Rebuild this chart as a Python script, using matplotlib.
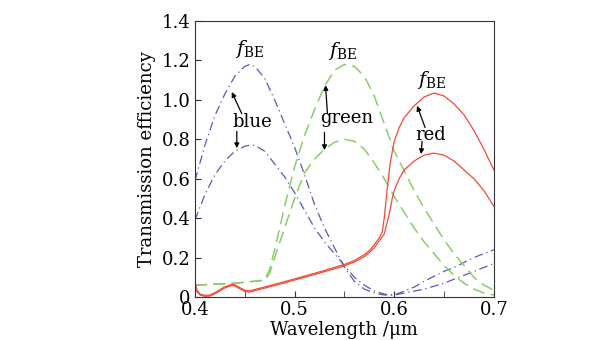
import matplotlib
matplotlib.use("Agg")
import matplotlib.pyplot as plt
from matplotlib.ticker import MultipleLocator, FuncFormatter

plt.rcParams['font.family'] = ['DejaVu Serif']
plt.rcParams['mathtext.fontset'] = 'dejavuserif'

# blue (dash-dot)
blue_x = [0.40, 0.41, 0.42, 0.43, 0.44, 0.45, 0.455, 0.46, 0.47, 0.48, 0.49, 0.50, 0.51,
          0.52, 0.53, 0.54, 0.55, 0.56, 0.57, 0.58, 0.59, 0.60, 0.61, 0.62, 0.63, 0.64,
          0.65, 0.66, 0.67, 0.68, 0.69, 0.70]
blue_hi = [0.59, 0.77, 0.92, 1.03, 1.12, 1.17, 1.18, 1.17, 1.11, 1.00, 0.88, 0.76, 0.62,
           0.47, 0.35, 0.25, 0.15, 0.08, 0.04, 0.02, 0.01, 0.01, 0.03, 0.05, 0.08, 0.105,
           0.13, 0.15, 0.175, 0.20, 0.22, 0.24]
blue_lo = [0.39, 0.52, 0.62, 0.69, 0.74, 0.765, 0.77, 0.77, 0.74, 0.675, 0.61, 0.53, 0.44,
           0.35, 0.28, 0.22, 0.16, 0.10, 0.06, 0.03, 0.015, 0.01, 0.02, 0.03, 0.04, 0.055,
           0.07, 0.09, 0.11, 0.13, 0.15, 0.17]

# green (dashed)
green_x = [0.40, 0.42, 0.44, 0.46, 0.47, 0.475, 0.48, 0.49, 0.50, 0.51, 0.52, 0.53, 0.54,
           0.55, 0.56, 0.57, 0.58, 0.59, 0.60, 0.61, 0.62, 0.63, 0.64, 0.65, 0.66, 0.67,
           0.68, 0.69, 0.70]
green_hi = [0.06, 0.065, 0.07, 0.08, 0.085, 0.14, 0.24, 0.46, 0.66, 0.82, 0.95, 1.07, 1.15,
            1.18, 1.17, 1.12, 1.02, 0.88, 0.74, 0.64, 0.54, 0.45, 0.37, 0.29, 0.22, 0.16,
            0.10, 0.06, 0.035]
green_lo = [0.06, 0.065, 0.07, 0.08, 0.085, 0.12, 0.20, 0.35, 0.50, 0.63, 0.70, 0.75, 0.785,
            0.80, 0.79, 0.75, 0.68, 0.60, 0.51, 0.43, 0.35, 0.28, 0.22, 0.16, 0.11, 0.07,
            0.04, 0.02, 0.01]

# red (solid)
red_hi_x = [0.40, 0.402, 0.405, 0.41, 0.415, 0.42, 0.43, 0.437, 0.44, 0.445, 0.45, 0.455,
            0.46, 0.48, 0.50, 0.52, 0.54, 0.55, 0.56, 0.57, 0.575, 0.58, 0.585, 0.588,
            0.59, 0.593, 0.596, 0.60, 0.605, 0.61, 0.62, 0.63, 0.64, 0.65, 0.66, 0.67,
            0.68, 0.69, 0.70]
red_hi = [0.075, 0.035, 0.015, 0.008, 0.01, 0.022, 0.052, 0.064, 0.062, 0.048, 0.034, 0.031,
          0.038, 0.064, 0.092, 0.12, 0.15, 0.165, 0.185, 0.215, 0.235, 0.265, 0.30, 0.33,
          0.40, 0.55, 0.68, 0.79, 0.86, 0.91, 0.97, 1.015, 1.035, 1.02, 0.98, 0.925,
          0.845, 0.75, 0.645]
red_lo_x = [0.40, 0.402, 0.405, 0.41, 0.415, 0.42, 0.43, 0.437, 0.44, 0.445, 0.45, 0.455,
            0.46, 0.48, 0.50, 0.52, 0.54, 0.55, 0.56, 0.57, 0.575, 0.58, 0.585, 0.59,
            0.595, 0.598, 0.60, 0.605, 0.61, 0.62, 0.63, 0.64, 0.65, 0.66, 0.67, 0.68,
            0.69, 0.70]
red_lo = [0.068, 0.028, 0.01, 0.003, 0.005, 0.016, 0.046, 0.058, 0.056, 0.042, 0.028, 0.025,
          0.032, 0.058, 0.086, 0.114, 0.143, 0.158, 0.178, 0.205, 0.225, 0.25, 0.285, 0.32,
          0.42, 0.50, 0.54, 0.60, 0.645, 0.69, 0.72, 0.73, 0.72, 0.69, 0.645, 0.60,
          0.54, 0.46]

# annotations: (text, x, y)
labels = [("blue", 0.458, 0.89), ("green", 0.552, 0.91), ("red", 0.637, 0.82)]
fbe_pos = [(0.455, 1.26), (0.548, 1.25), (0.638, 1.10)]
# arrows: (tip x, tip y, tail x, tail y)
arrows = [(0.437, 1.04, 0.447, 0.93), (0.442, 0.755, 0.442, 0.84),
          (0.531, 1.075, 0.533, 0.93), (0.530, 0.745, 0.530, 0.835),
          (0.623, 0.97, 0.631, 0.86), (0.627, 0.725, 0.628, 0.79)]

BLUE = '#5a5ab8'
GREEN = '#8ccc6a'
RED = '#f04a3a'

fig = plt.figure(figsize=(6.15, 3.4), dpi=100)
ax = fig.add_axes([0.317, 0.1265, 0.486, 0.8115])

ax.plot(blue_x, blue_hi, color=BLUE, lw=0.9, dashes=(7, 3, 1, 3))
ax.plot(blue_x, blue_lo, color=BLUE, lw=0.9, dashes=(7, 3, 1, 3))
ax.plot(green_x, green_hi, color=GREEN, lw=1.1, dashes=(8, 4))
ax.plot(green_x, green_lo, color=GREEN, lw=1.1, dashes=(8, 4))
ax.plot(red_hi_x, red_hi, color=RED, lw=0.9)
ax.plot(red_lo_x, red_lo, color=RED, lw=0.9)

for txt, x, y in labels:
    ax.text(x, y, txt, ha='center', va='center', fontsize=13)
for x, y in fbe_pos:
    ax.text(x, y, r'$f_{\rm BE}$', ha='center', va='center', fontsize=14)
for tx, ty, sx, sy in arrows:
    ax.annotate('', xy=(tx, ty), xytext=(sx, sy),
                arrowprops=dict(arrowstyle='-|>', color='black', lw=0.9,
                                mutation_scale=7, shrinkA=0, shrinkB=0))

ax.set_xlim(0.4, 0.7)
ax.set_ylim(0, 1.4)
ax.xaxis.set_major_locator(MultipleLocator(0.1))
ax.xaxis.set_minor_locator(MultipleLocator(0.05))
ax.yaxis.set_major_locator(MultipleLocator(0.2))
ax.yaxis.set_major_formatter(FuncFormatter(lambda v, p: '0' if abs(v) < 1e-9 else f'{v:.1f}'))
ax.tick_params(which='both', direction='in', top=False, right=False, labelsize=13,
               color='#333333', pad=3)
ax.tick_params(which='major', length=4)
ax.tick_params(which='minor', length=4)
for s in ax.spines.values():
    s.set_color('#333333')
    s.set_linewidth(0.8)

ax.set_xlabel('Wavelength /\u03bcm', fontsize=13, labelpad=1)
ax.set_ylabel('Transmission efficiency', fontsize=13, labelpad=4)

fig.savefig('out.png', dpi=100)
